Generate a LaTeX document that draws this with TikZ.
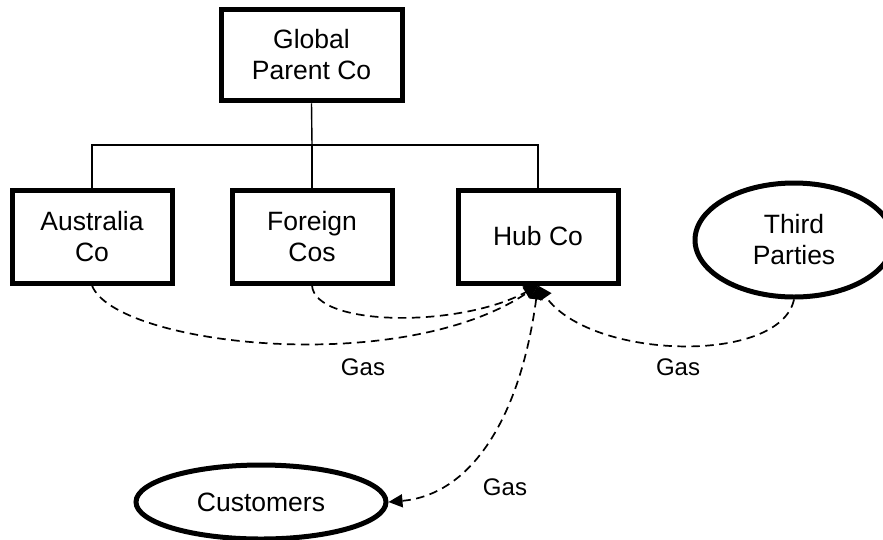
\documentclass[tikz,border=0pt]{standalone}
\usepackage{fontspec}
\setmainfont{Liberation Sans}
\usetikzlibrary{shapes.geometric,arrows.meta}
\begin{document}
\begin{tikzpicture}[x=1pt,y=-1pt,
  boxnode/.style={draw, line width=5pt, rectangle, minimum width=160pt, minimum height=93pt,
    align=center, inner sep=0pt, font=\fontsize{26.5}{31}\selectfont},
  ellnode/.style={draw, line width=5pt, ellipse, inner sep=0pt, align=center,
    font=\fontsize{26.5}{31}\selectfont},
  treeline/.style={line width=1.4pt},
  flow/.style={line width=1.7pt, dash pattern=on 8.5pt off 5.5pt, -{Triangle[length=14pt,width=13pt]}},
  twoflow/.style={line width=1.7pt, dash pattern=on 8.5pt off 5.5pt, {Triangle[length=14pt,width=13pt]}-{Triangle[length=14pt,width=13pt]}},
  gaslabel/.style={font=\fontsize{24}{28}\selectfont, inner sep=0pt}
]
\useasboundingbox (0,0) rectangle (883,539);

\node[boxnode, minimum width=181pt, minimum height=91.5pt] (global) at (311.5,55) {Global\\Parent Co};
\node[boxnode] (aus) at (92,236.5) {Australia\\Co};
\node[boxnode] (foreign) at (312,236.5) {Foreign\\Cos};
\node[boxnode] (hub) at (538,236.5) {Hub Co};
\node[ellnode, minimum width=198pt, minimum height=114pt] (third) at (794,240) {Third\\Parties};
\node[ellnode, minimum width=250pt, minimum height=74pt] (cust) at (261,502) {Customers};

\coordinate (split) at (312,145);
\draw[treeline] (global.south) -- (split);
\draw[treeline] (aus.north) |- (split) -| (hub.north);
\draw[treeline] (split) -- (foreign.north);

\draw[flow] (aus.south) .. controls (115,345) and (400,378) .. (hub.south);
\draw[flow] (foreign.south) .. controls (315,327) and (460,328) .. (hub.south);
\draw[flow] (third.south) .. controls (780,365) and (590,360) .. (hub.south);
\draw[twoflow] (hub.south) .. controls (520,420) and (470,495) .. (cust.east);

\node[gaslabel] (gas1) at (363,367) {Gas};
\node[gaslabel] (gas2) at (678,367) {Gas};
\node[gaslabel] (gas3) at (505,487) {Gas};
\end{tikzpicture}
\end{document}
